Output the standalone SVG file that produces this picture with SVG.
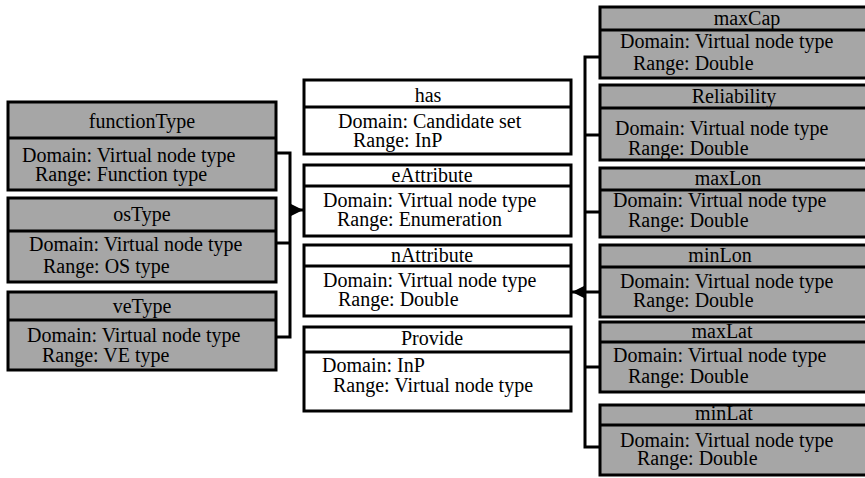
<svg xmlns="http://www.w3.org/2000/svg" width="865" height="478" viewBox="0 0 865 478">
<defs>
<style>
.box rect{stroke:#000;stroke-width:3}
.g rect{fill:#a6a6a6}
.w rect{fill:#fff}
.box line{stroke:#000;stroke-width:3}
text{font-family:"Liberation Serif","Times New Roman",serif;font-size:20px;fill:#000}
.t{text-anchor:middle}
.conn{stroke:#000;stroke-width:3;fill:none}
</style>
<marker id="arr" viewBox="0 0 10 10" refX="10" refY="5" markerWidth="4" markerHeight="4" orient="auto" markerUnits="strokeWidth">
<path d="M0,0 L10,5 L0,10 z" fill="#000"/>
</marker>
</defs>
<rect width="865" height="478" fill="#fff"/>

<g id="functionType" class="box g">
<rect x="8" y="102" width="268" height="88"/><line x1="8" y1="138" x2="276" y2="138"/>
<text class="t" x="142" y="128">functionType</text>
<text x="22" y="162">Domain: Virtual node type</text>
<text x="35" y="181">Range: Function type</text>
</g>
<g id="osType" class="box g">
<rect x="8" y="198" width="268" height="84"/><line x1="8" y1="231" x2="276" y2="231"/>
<text class="t" x="142" y="221">osType</text>
<text x="29" y="251">Domain: Virtual node type</text>
<text x="43" y="273">Range: OS type</text>
</g>
<g id="veType" class="box g">
<rect x="8" y="292" width="268" height="78"/><line x1="8" y1="320" x2="276" y2="320"/>
<text class="t" x="142" y="313">veType</text>
<text x="27" y="342">Domain: Virtual node type</text>
<text x="42" y="362">Range: VE type</text>
</g>

<g id="has" class="box w">
<rect x="304" y="80" width="267" height="74"/><line x1="304" y1="107" x2="571" y2="107"/>
<text class="t" x="428" y="102">has</text>
<text x="338" y="128">Domain: Candidate set</text>
<text x="353" y="147">Range: InP</text>
</g>
<g id="eAttribute" class="box w">
<rect x="304" y="165" width="267" height="71"/><line x1="304" y1="186" x2="571" y2="186"/>
<text class="t" x="432" y="182">eAttribute</text>
<text x="323" y="207">Domain: Virtual node type</text>
<text x="337" y="226">Range: Enumeration</text>
</g>
<g id="nAttribute" class="box w">
<rect x="304" y="245" width="267" height="71"/><line x1="304" y1="266" x2="571" y2="266"/>
<text class="t" x="432" y="262">nAttribute</text>
<text x="323" y="287">Domain: Virtual node type</text>
<text x="338" y="306">Range: Double</text>
</g>
<g id="Provide" class="box w">
<rect x="304" y="327" width="267" height="84"/><line x1="304" y1="352" x2="571" y2="352"/>
<text class="t" x="432" y="345">Provide</text>
<text x="322" y="372">Domain: InP</text>
<text x="333" y="392">Range: Virtual node type</text>
</g>

<g id="maxCap" class="box g">
<rect x="600" y="7" width="270" height="71"/><line x1="600" y1="30" x2="870" y2="30"/>
<text class="t" x="747" y="25">maxCap</text>
<text x="620" y="48">Domain: Virtual node type</text>
<text x="633" y="70">Range: Double</text>
</g>
<g id="Reliability" class="box g">
<rect x="600" y="85" width="270" height="75"/><line x1="600" y1="108" x2="870" y2="108"/>
<text class="t" x="734" y="103">Reliability</text>
<text x="615" y="135">Domain: Virtual node type</text>
<text x="628" y="155">Range: Double</text>
</g>
<g id="maxLon" class="box g">
<rect x="600" y="168" width="270" height="69"/><line x1="600" y1="190" x2="870" y2="190"/>
<text class="t" x="728" y="185">maxLon</text>
<text x="613" y="207">Domain: Virtual node type</text>
<text x="628" y="227">Range: Double</text>
</g>
<g id="minLon" class="box g">
<rect x="600" y="245" width="270" height="72"/><line x1="600" y1="267" x2="870" y2="267"/>
<text class="t" x="720" y="262">minLon</text>
<text x="620" y="288">Domain: Virtual node type</text>
<text x="633" y="307">Range: Double</text>
</g>
<g id="maxLat" class="box g">
<rect x="600" y="322" width="270" height="70"/><line x1="600" y1="342" x2="870" y2="342"/>
<text class="t" x="722" y="338">maxLat</text>
<text x="613" y="362">Domain: Virtual node type</text>
<text x="628" y="383">Range: Double</text>
</g>
<g id="minLat" class="box g">
<rect x="600" y="405" width="270" height="70"/><line x1="600" y1="425" x2="870" y2="425"/>
<text class="t" x="724" y="420">minLat</text>
<text x="620" y="447">Domain: Virtual node type</text>
<text x="637" y="465">Range: Double</text>
</g>

<g id="connectors" class="conn">
<polyline points="276,153 290,153 290,337 276,337"/>
<line x1="276" y1="243" x2="290" y2="243"/>
<line x1="290" y1="210" x2="303" y2="210" marker-end="url(#arr)"/>
<polyline points="600,57 585,57 585,447 600,447"/>
<line x1="585" y1="135" x2="600" y2="135"/>
<line x1="585" y1="212" x2="600" y2="212"/>
<line x1="585" y1="367" x2="600" y2="367"/>
<line x1="600" y1="292" x2="572" y2="292" marker-end="url(#arr)"/>
</g>
</svg>
